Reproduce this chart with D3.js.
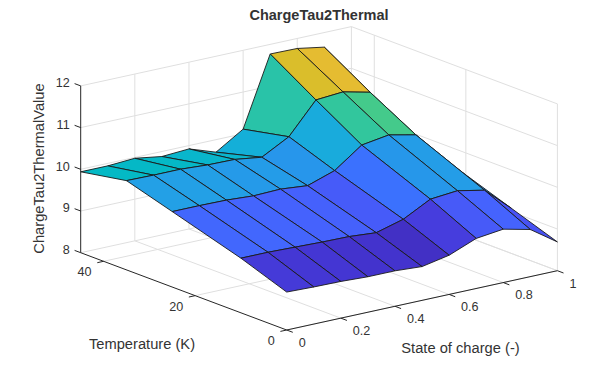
<!DOCTYPE html>
<html>
<head>
<meta charset="utf-8">
<script src="https://cdn.jsdelivr.net/npm/d3@7"></script>
<style>
  body { margin: 0; background: #fff; }
  text { font-family: "Liberation Sans", Arial, sans-serif; fill: #333; }
</style>
</head>
<body>
<div id="chart"></div>
<script>
// breakpoints of the lookup table
const stateOfCharge = [0, 0.1, 0.2, 0.3, 0.4, 0.5, 0.6, 0.7, 0.8, 0.9, 1];
const temperature = [0, 10, 25, 35, 45];

// ChargeTau2Thermal values, one list per temperature
const tauAt0K  = [8.91, 8.89, 8.88, 8.85, 8.85, 8.81, 8.94, 9.20, 9.28, 9.13, 8.69];
const tauAt10K = [9.31, 9.31, 9.29, 9.27, 9.26, 9.21, 9.39, 9.73, 9.79, 9.66, 9.08];
const tauAt25K = [9.81, 9.81, 9.80, 9.76, 9.78, 9.72, 9.94, 10.41, 10.51, 10.37, 9.67];
const tauAt35K = [10.14, 10.13, 10.13, 10.09, 10.08, 9.99, 10.34, 11.08, 11.13, 10.98, 9.98];
const tauAt45K = [9.94, 9.94, 9.98, 9.88, 9.92, 9.70, 10.11, 11.77, 11.76, 11.65, 10.53];
const tauRows = [tauAt0K, tauAt10K, tauAt25K, tauAt35K, tauAt45K];

const socTicks = [0, 0.2, 0.4, 0.6, 0.8, 1];
const tempTicks = [0, 20, 40];
const valueTicks = [8, 9, 10, 11, 12];

const socLimits = [0, 1];
const tempLimits = [0, 45];
const valueLimits = [8, 12];

// parula, every 3rd entry of the 64 colour table
const parula = ["#3e26a8", "#4332cb", "#4741e5", "#4852f4", "#4563fd", "#3875fe", "#2e87f7",
  "#2796eb", "#20a5e3", "#12b1d6", "#02bac3", "#24c1ae", "#37c897", "#57cc7a", "#81cc59",
  "#abc739", "#d1bf27", "#f0ba36", "#fec338", "#fad62d", "#f5e924", "#f9fb15"];

const width = 616;
const height = 371;

// the skewed box: where each data axis runs on screen (orthographic view)
const origin = { x: 286.7, y: 330 };
const socX = d3.scaleLinear().domain(socLimits).range([0, 270.7]);
const socY = d3.scaleLinear().domain(socLimits).range([0, -59.3]);
const tempX = d3.scaleLinear().domain(tempLimits).range([0, -206]);
const tempY = d3.scaleLinear().domain(tempLimits).range([0, -77.3]);
const valueY = d3.scaleLinear().domain(valueLimits).range([0, -166.8]);

function project(s, t, v) {
    return [origin.x + socX(s) + tempX(t), origin.y + socY(s) + tempY(t) + valueY(v)];
}

const allValues = tauRows.flat();
const color = d3.scaleLinear()
    .domain(parula.map((c, i) => d3.min(allValues) + i / (parula.length - 1) * (d3.max(allValues) - d3.min(allValues))))
    .range(parula);

const svg = d3.select("#chart").append("svg")
    .attr("width", width)
    .attr("height", height)
    .style("display", "block");

const line3d = d3.line();
const [sMin, sMax] = socLimits;
const [tMin, tMax] = tempLimits;
const [vMin, vMax] = valueLimits;

// grid on the floor and the two back walls
const gridLines = [];
socTicks.forEach(s => {
    if (s > sMin) gridLines.push([[s, tMin, vMin], [s, tMax, vMin], [s, tMax, vMax]]);
});
tempTicks.forEach(t => {
    gridLines.push([[sMax, t, vMax], [sMax, t, vMin], [sMin, t, vMin]]);
});
valueTicks.forEach(v => {
    gridLines.push([[sMin, tMax, v], [sMax, tMax, v], [sMax, tMin, v]]);
});

svg.append("g").selectAll("path")
    .data(gridLines)
    .enter()
    .append("path")
    .attr("d", d => line3d(d.map(p => project(...p))))
    .attr("fill", "none")
    .attr("stroke", "#dfdfdf")
    .attr("stroke-width", 1);

// surface patches, far ones first so the near ones cover them
const patches = [];
for (let ti = temperature.length - 2; ti >= 0; ti--) {
    for (let si = stateOfCharge.length - 2; si >= 0; si--) {
        patches.push({ ti, si });
    }
}

svg.append("g").selectAll("path")
    .data(patches)
    .enter()
    .append("path")
    .attr("d", ({ ti, si }) => line3d([
        project(stateOfCharge[si], temperature[ti], tauRows[ti][si]),
        project(stateOfCharge[si + 1], temperature[ti], tauRows[ti][si + 1]),
        project(stateOfCharge[si + 1], temperature[ti + 1], tauRows[ti + 1][si + 1]),
        project(stateOfCharge[si], temperature[ti + 1], tauRows[ti + 1][si])
    ]) + "Z")
    .attr("fill", ({ ti, si }) => color(tauRows[ti][si]))
    .attr("stroke", "#1a1a1a")
    .attr("stroke-width", 0.9)
    .attr("stroke-linejoin", "round");

// box edges with ticks
const axisColor = "#262626";
const axes = svg.append("g").attr("fill", "none").attr("stroke", axisColor).attr("stroke-width", 1);

axes.append("path").attr("d", line3d([project(sMin, tMax, vMax), project(sMin, tMax, vMin), project(sMin, tMin, vMin), project(sMax, tMin, vMin)]));

valueTicks.forEach(v => {
    const [x, y] = project(sMin, tMax, v);
    axes.append("line").attr("x1", x).attr("y1", y).attr("x2", x - 6.1).attr("y2", y - 2.3);
});
tempTicks.forEach(t => {
    const [x, y] = project(sMin, t, vMin);
    axes.append("line").attr("x1", x).attr("y1", y).attr("x2", x - 6.3).attr("y2", y + 1.4);
});
socTicks.forEach(s => {
    const [x, y] = project(s, tMin, vMin);
    axes.append("line").attr("x1", x).attr("y1", y).attr("x2", x + 6.1).attr("y2", y + 2.3);
});

// tick labels
const labels = svg.append("g").attr("font-size", 12.6);

labels.selectAll(".value-label")
    .data(valueTicks)
    .enter()
    .append("text")
    .attr("class", "value-label")
    .attr("x", d => project(sMin, tMax, d)[0] - 11)
    .attr("y", d => project(sMin, tMax, d)[1] - 3)
    .attr("dy", "0.35em")
    .attr("text-anchor", "end")
    .text(d => d);

labels.selectAll(".temp-label")
    .data(tempTicks)
    .enter()
    .append("text")
    .attr("class", "temp-label")
    .attr("x", d => project(sMin, d, vMin)[0] - 12)
    .attr("y", d => project(sMin, d, vMin)[1] + 10.5)
    .attr("dy", "0.35em")
    .attr("text-anchor", "end")
    .text(d => d);

labels.selectAll(".soc-label")
    .data(socTicks)
    .enter()
    .append("text")
    .attr("class", "soc-label")
    .attr("x", d => project(d, tMin, vMin)[0] + 12)
    .attr("y", d => project(d, tMin, vMin)[1] + 12.5)
    .attr("dy", "0.35em")
    .attr("text-anchor", "start")
    .text(d => d);

// title and axis names
svg.append("text")
    .attr("x", 319)
    .attr("y", 20)
    .attr("text-anchor", "middle")
    .attr("font-size", 14.5)
    .attr("font-weight", "bold")
    .text("ChargeTau2Thermal");

svg.append("text")
    .attr("transform", "translate(44,168.5) rotate(-90)")
    .attr("text-anchor", "middle")
    .attr("font-size", 14.7)
    .text("ChargeTau2ThermalValue");

svg.append("text")
    .attr("x", 142)
    .attr("y", 349)
    .attr("text-anchor", "middle")
    .attr("font-size", 14.7)
    .text("Temperature (K)");

svg.append("text")
    .attr("x", 460.5)
    .attr("y", 353)
    .attr("text-anchor", "middle")
    .attr("font-size", 14.7)
    .text("State of charge (-)");
</script>
</body>
</html>
